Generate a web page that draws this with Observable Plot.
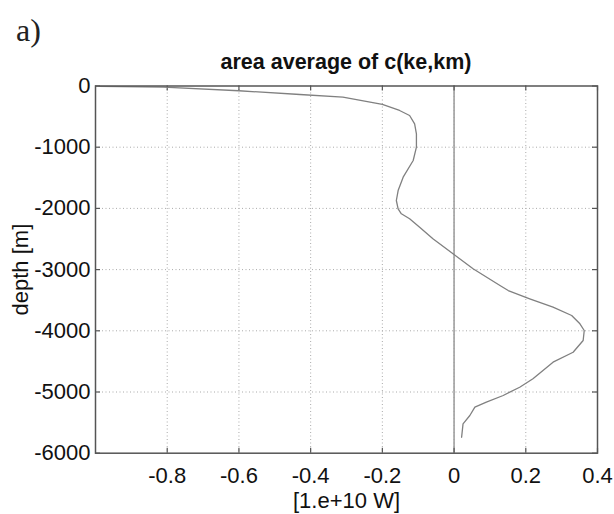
<!DOCTYPE html>
<html>
<head>
<meta charset="utf-8">
<script src="https://cdn.jsdelivr.net/npm/d3@7"></script>
<script src="https://cdn.jsdelivr.net/npm/@observablehq/plot@0.6"></script>
<style>
  html, body { margin: 0; padding: 0; background: #fff; }
  #wrap { width: 614px; height: 514px; position: relative; overflow: hidden; }
  #hdr { position: relative; height: 70px; }
  #panel { position: absolute; left: 16px; top: 12px; font: 32px "Liberation Serif", serif; color: #222; }
  #title { position: absolute; left: 95px; width: 502px; top: 50px; text-align: center;
           font: bold 21.5px "Liberation Sans", Arial, sans-serif; color: #111; }
</style>
</head>
<body>
<div id="wrap">
  <div id="hdr">
    <div id="panel">a)</div>
    <div id="title">area average of c(ke,km)</div>
  </div>
  <div id="chart"></div>
</div>
<script>
// Profile of area-averaged c(ke,km) [1.e+10 W] vs depth [m]
const value = [-0.99, -0.81, -0.60, -0.43, -0.31, -0.20, -0.152, -0.124, -0.110, -0.105,
  -0.105, -0.114, -0.142, -0.156, -0.161, -0.156, -0.147, -0.124, -0.096, -0.059,
  -0.003, 0.053, 0.128, 0.151, 0.211, 0.276, 0.328, 0.351, 0.363, 0.360,
  0.332, 0.276, 0.248, 0.220, 0.183, 0.137, 0.090, 0.058, 0.044, 0.025, 0.021];
const depth = [-5, -20, -78, -139, -183, -302, -400, -482, -618, -781,
  -1000, -1217, -1490, -1708, -1871, -2007, -2088, -2170, -2307, -2497,
  -2742, -2987, -3260, -3342, -3477, -3614, -3750, -3886, -3995, -4158,
  -4350, -4513, -4649, -4784, -4922, -5057, -5167, -5248, -5384, -5520, -5739];

const xTicks = [-0.8, -0.6, -0.4, -0.2, 0, 0.2, 0.4];
const yTicks = [0, -1000, -2000, -3000, -4000, -5000, -6000];
const xDomain = [-1, 0.4];
const yDomain = [-6000, 0];
const xLabel = "[1.e+10 W]";
const yLabel = "depth [m]";

const profile = value.map((v, i) => ({value: v, depth: depth[i]}));
const xGrid = xTicks.filter(t => t > xDomain[0] && t < xDomain[1]);
const yGrid = yTicks.filter(t => t > yDomain[0] && t < yDomain[1]);
const tickLenX = 0.014;   // data units ~5px
const tickLenY = 80;      // data units ~5px

const plot = Plot.plot({
  width: 614,
  height: 444,
  marginTop: 15.5,
  marginBottom: 61.3,
  marginLeft: 95,
  marginRight: 17,
  style: {fontFamily: "'Liberation Sans', Arial, sans-serif", fontSize: "22px", color: "#111", background: "#fff"},
  x: {domain: xDomain, ticks: xTicks, tickFormat: d => String(d), tickSize: 0, tickPadding: 14, label: null},
  y: {domain: yDomain, ticks: yTicks, tickFormat: d => String(d), tickSize: 0, tickPadding: 5, label: null},
  marks: [
    Plot.ruleX(xGrid, {stroke: "#aaa", strokeWidth: 1, strokeDasharray: "1,2.5"}),
    Plot.ruleY(yGrid, {stroke: "#aaa", strokeWidth: 1, strokeDasharray: "1,2.5"}),
    Plot.ruleX([0], {stroke: "#a0a0a0", strokeWidth: 1.6}),
    // inward ticks (MATLAB box style)
    Plot.ruleX(xTicks, {y1: yDomain[0], y2: yDomain[0] + tickLenY, stroke: "#555", strokeWidth: 1.2}),
    Plot.ruleX(xTicks, {y1: yDomain[1], y2: yDomain[1] - tickLenY, stroke: "#555", strokeWidth: 1.2}),
    Plot.ruleY(yTicks, {x1: xDomain[0], x2: xDomain[0] + tickLenX, stroke: "#555", strokeWidth: 1.2}),
    Plot.ruleY(yTicks, {x1: xDomain[1], x2: xDomain[1] - tickLenX, stroke: "#555", strokeWidth: 1.2}),
    Plot.line(profile, {x: "value", y: "depth", stroke: "#808080", strokeWidth: 1.3, curve: "linear"}),
    Plot.frame({stroke: "#555", strokeWidth: 1.5}),
    Plot.text([xLabel], {frameAnchor: "bottom", dy: 48, textAnchor: "middle", lineAnchor: "middle", fontSize: 22, fill: "#111"}),
    Plot.text([yLabel], {frameAnchor: "left", dx: -75, rotate: -90, textAnchor: "middle", lineAnchor: "middle", fontSize: 22, fill: "#111"})
  ]
});
document.getElementById("chart").appendChild(plot);
</script>
</body>
</html>
